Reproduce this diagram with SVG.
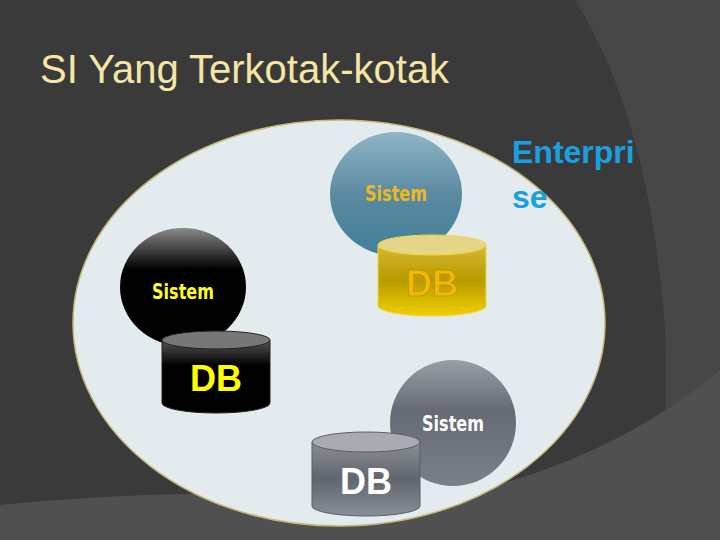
<svg xmlns="http://www.w3.org/2000/svg" width="720" height="540" viewBox="0 0 720 540">
<defs>
<linearGradient id="gBlue" x1="0" y1="0" x2="0" y2="1"><stop offset="0" stop-color="#8fb5c6"/><stop offset="0.5" stop-color="#5a8aa0"/><stop offset="1" stop-color="#3f7f99"/></linearGradient>
<linearGradient id="gBlack" x1="0" y1="0" x2="0" y2="1"><stop offset="0" stop-color="#8a8a8a"/><stop offset="0.35" stop-color="#000"/><stop offset="1" stop-color="#000"/></linearGradient>
<linearGradient id="gGray" x1="0" y1="0" x2="0" y2="1"><stop offset="0" stop-color="#9a9ea6"/><stop offset="0.4" stop-color="#656a74"/><stop offset="1" stop-color="#7a7f88"/></linearGradient>
<linearGradient id="cGold" x1="0" y1="0" x2="0" y2="1"><stop offset="0" stop-color="#d8b830"/><stop offset="0.5" stop-color="#b89a00"/><stop offset="1" stop-color="#f0d000"/></linearGradient>
<linearGradient id="cBlack" x1="0" y1="0" x2="0" y2="1"><stop offset="0" stop-color="#555"/><stop offset="0.35" stop-color="#000"/><stop offset="1" stop-color="#000"/></linearGradient>
<linearGradient id="cGray" x1="0" y1="0" x2="0" y2="1"><stop offset="0" stop-color="#8a8e96"/><stop offset="0.5" stop-color="#60656e"/><stop offset="1" stop-color="#8a8e96"/></linearGradient>
</defs>
<style>
.sis{font-family:"DejaVu Sans Condensed","DejaVu Sans",sans-serif;font-weight:bold;font-size:21px;text-anchor:middle}
.db{font-family:"Liberation Sans",Arial,sans-serif;font-weight:bold;font-size:36px;text-anchor:middle}
</style>
<rect width="720" height="540" fill="#3a3a3a"/>
<path d="M575 0 Q650 120 665 330 Q668 420 660 540 L720 540 L720 0 Z" fill="#474747"/>
<path d="M0 505 Q200 485 430 500 Q600 470 720 370 L720 540 L0 540 Z" fill="#505050"/>
<text x="40" y="83" font-family="Liberation Sans,Arial,sans-serif" font-size="40" fill="#f5e6a6">SI Yang Terkotak-kotak</text>
<g id="enterprise"><ellipse cx="339" cy="323" rx="266" ry="203" fill="#e3ebee" stroke="#c8b878" stroke-width="1.5"/></g>
<text x="512" y="163" font-family="Liberation Sans,Arial,sans-serif" font-weight="bold" font-size="32" fill="#1aa0e0">Enterpri</text>
<text x="512" y="208" font-family="Liberation Sans,Arial,sans-serif" font-weight="bold" font-size="32" fill="#1aa0e0">se</text>
<g id="sys1">
<ellipse cx="396" cy="194" rx="66" ry="62" fill="url(#gBlue)"/>
<text class="sis" x="396" y="201" fill="#f0b820" transform="translate(396 0) scale(0.85 1) translate(-396 0)">Sistem</text>
</g>
<g id="db1">
<path d="M378 245 L378 306 A54 10 0 0 0 486 306 L486 245 Z" fill="url(#cGold)" stroke="#f0d840"/>
<ellipse cx="432" cy="245" rx="54" ry="10" fill="#e6d488" stroke="#f0d840"/>
<text class="db" x="432" y="296" fill="#f0b800" stroke="#a88400" stroke-width="0.5">DB</text>
</g>
<g id="sys2">
<ellipse cx="183" cy="287" rx="63" ry="59" fill="url(#gBlack)"/>
<text class="sis" x="183" y="299" fill="#ffff20" transform="translate(183 0) scale(0.85 1) translate(-183 0)">Sistem</text>
</g>
<g id="db2">
<path d="M162 340 L162 403 A54 10 0 0 0 270 403 L270 340 Z" fill="url(#cBlack)" stroke="#222"/>
<ellipse cx="216" cy="340" rx="54" ry="9" fill="#777" stroke="#222"/>
<text class="db" x="216" y="391" fill="#ffff00">DB</text>
</g>
<g id="sys3">
<ellipse cx="453" cy="423" rx="63" ry="63" fill="url(#gGray)"/>
<text class="sis" x="453" y="431" fill="#ffffff" transform="translate(453 0) scale(0.85 1) translate(-453 0)">Sistem</text>
</g>
<g id="db3">
<path d="M312 442 L312 506 A54 10 0 0 0 420 506 L420 442 Z" fill="url(#cGray)" stroke="#5a5e66"/>
<ellipse cx="366" cy="442" rx="54" ry="10" fill="#a8acb2" stroke="#5a5e66"/>
<text class="db" x="366" y="494" fill="#ffffff">DB</text>
</g>
<g id="connectors"/>
</svg>
